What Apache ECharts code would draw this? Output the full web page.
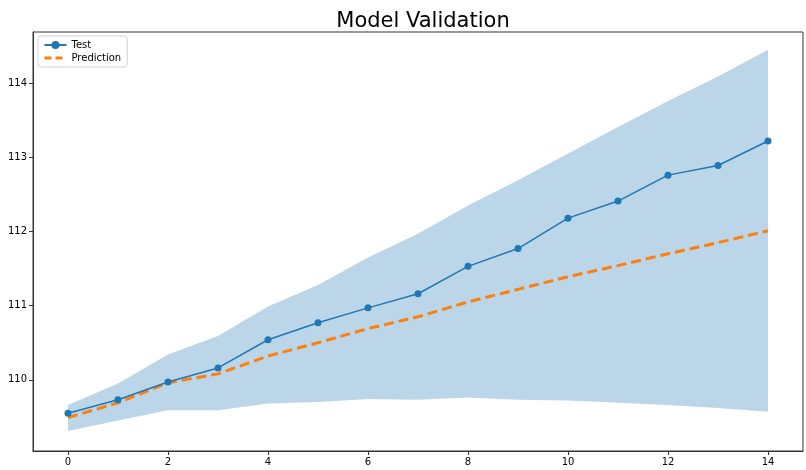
<!DOCTYPE html>
<html>
<head>
<meta charset="utf-8">
<script src="https://cdn.jsdelivr.net/npm/echarts@6/dist/echarts.min.js"></script>
<style>
  html, body { margin: 0; padding: 0; background: #fff; }
  #main { width: 806px; height: 470px; }
</style>
</head>
<body>
<div id="main"></div>
<script>
// x positions 0..14
var steps = [0, 1, 2, 3, 4, 5, 6, 7, 8, 9, 10, 11, 12, 13, 14];
var testValues = [109.55, 109.73, 109.97, 110.16, 110.54, 110.77, 110.97, 111.16, 111.53, 111.77, 112.18, 112.41, 112.76, 112.89, 113.22];
var predValues = [109.49, 109.69, 109.96, 110.08, 110.32, 110.50, 110.69, 110.85, 111.05, 111.22, 111.39, 111.54, 111.70, 111.85, 112.01];
var upperBand = [109.66, 109.95, 110.34, 110.59, 110.99, 111.28, 111.65, 111.97, 112.35, 112.69, 113.05, 113.41, 113.76, 114.09, 114.45];
var lowerBand = [109.31, 109.45, 109.59, 109.59, 109.68, 109.70, 109.74, 109.73, 109.76, 109.73, 109.72, 109.69, 109.66, 109.62, 109.57];
var xTicks = [0, 2, 4, 6, 8, 10, 12, 14];
var yTicks = [110, 111, 112, 113, 114];

var chart = echarts.init(document.getElementById('main'));

var testData = [], predData = [];
for (var i = 0; i < steps.length; i++) {
  testData.push([steps[i], testValues[i]]);
  predData.push([steps[i], predValues[i]]);
}

// 区间带：上沿 + 反向下沿 拼成一个多边形
function renderBand(params, api) {
  var pts = [];
  for (var i = 0; i < steps.length; i++) pts.push(api.coord([steps[i], upperBand[i]]));
  for (var j = steps.length - 1; j >= 0; j--) pts.push(api.coord([steps[j], lowerBand[j]]));
  return {
    type: 'polygon',
    shape: { points: pts },
    style: { fill: 'rgba(31,119,180,0.3)' }
  };
}

var option = {
  animation: false,
  title: {
    text: 'Model Validation',
    left: 418,
    textAlign: 'center',
    top: 6,
    textStyle: { fontFamily: 'DejaVu Sans', fontSize: 21, fontWeight: 'normal', color: '#000' }
  },
  grid: { left: 33, right: 3, top: 32, bottom: 19, show: true, borderColor: '#333', borderWidth: 1 },
  legend: {
    orient: 'vertical',
    left: 38,
    top: 36,
    padding: [4, 6, 4, 5],
    itemGap: 3,
    itemWidth: 22,
    itemHeight: 10,
    borderColor: '#d0d0d0',
    borderWidth: 1,
    borderRadius: 3,
    textStyle: { fontFamily: 'DejaVu Sans', fontSize: 10, color: '#000' },
    data: [
      { name: 'Test' },
      { name: 'Prediction', itemStyle: { opacity: 0 }, lineStyle: { type: [7, 4], width: 3 } }
    ]
  },
  xAxis: {
    type: 'value',
    min: -0.7,
    max: 14.7,
    splitLine: { show: false },
    axisLine: { onZero: false, lineStyle: { color: '#333' } },
    axisTick: { length: 4, lineStyle: { color: '#333' }, customValues: xTicks },
    axisLabel: { fontFamily: 'DejaVu Sans', fontSize: 10, color: '#000', margin: 6, customValues: xTicks }
  },
  yAxis: {
    type: 'value',
    min: 109.04,
    max: 114.69,
    splitLine: { show: false },
    axisLine: { show: true, onZero: false, lineStyle: { color: '#333' } },
    axisTick: { show: true, length: 4, lineStyle: { color: '#333' }, customValues: yTicks },
    axisLabel: { fontFamily: 'DejaVu Sans', fontSize: 10, color: '#000', margin: 6, customValues: yTicks }
  },
  series: [{
    name: 'band',
    type: 'custom',
    renderItem: renderBand,
    data: [[0, 110]],
    clip: true,
    silent: true,
    z: 1
  }, {
    name: 'Test',
    type: 'line',
    data: testData,
    symbol: 'circle',
    symbolSize: 7,
    itemStyle: { color: '#1f77b4' },
    lineStyle: { color: '#1f77b4', width: 1.5 },
    z: 4
  }, {
    name: 'Prediction',
    type: 'line',
    data: predData,
    symbol: 'none',
    itemStyle: { color: '#ff7f0e' },
    lineStyle: { color: '#ff7f0e', width: 3, type: [10, 5] },
    z: 3
  }]
};
chart.setOption(option);
</script>
</body>
</html>
